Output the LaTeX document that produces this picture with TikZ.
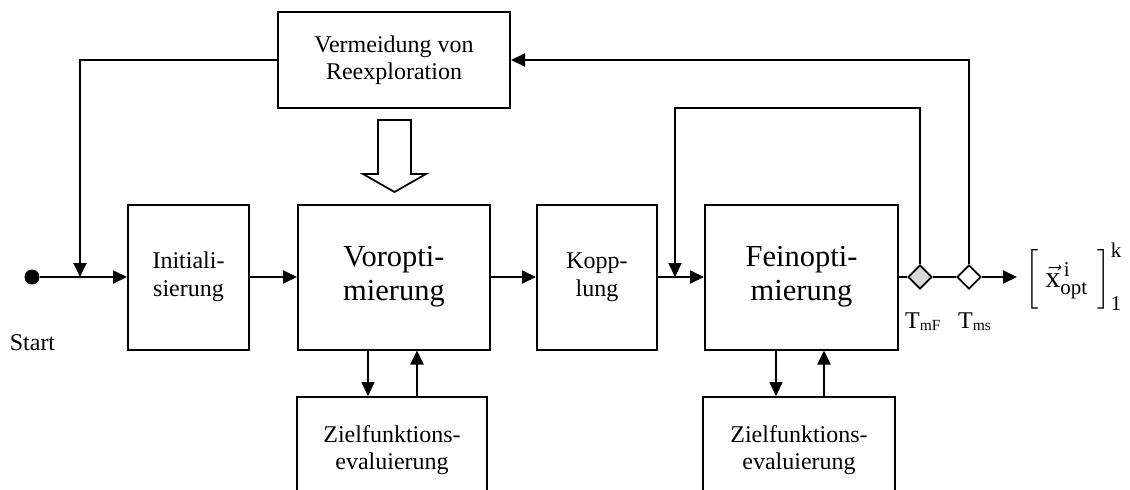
\RequirePackage{fix-cm}
\documentclass[tikz,border=0pt]{standalone}
\usepackage{amsmath}
\usepackage{fontspec}
\setmainfont{Liberation Serif}
\usetikzlibrary{arrows.meta,shapes.geometric,calc}
\definecolor{gatefill}{RGB}{217,217,217}
\tikzset{
  blk/.style={draw, line width=2pt, align=center, inner sep=0pt},
  arr/.style={line width=2pt, -{Triangle[length=14pt,width=13pt]}},
  ln/.style={line width=2pt},
  smalltxt/.style={font=\fontsize{24}{27.5}\selectfont},
  bigtxt/.style={font=\fontsize{30.5}{34}\selectfont},
  gate/.style={diamond, draw, line width=1.7pt, inner sep=0pt,
               minimum width=24pt, minimum height=24pt, fill=white},
}
\begin{document}
\begin{tikzpicture}[x=1pt,y=-1pt]
  \clip (0,0) rectangle (1130,490);

  % blocks
  \node[blk, smalltxt, minimum width=232, minimum height=96] (verm) at (394,60)
    {Vermeidung von\\Reexploration};
  \node[blk, smalltxt, minimum width=121, minimum height=145] (init) at (188.5,277)
    {Initiali-\\sierung};
  \node[blk, bigtxt, minimum width=192, minimum height=145] (vor) at (394,277)
    {Voropti-\\mierung};
  \node[blk, smalltxt, minimum width=120, minimum height=145] (kop) at (597,277)
    {Kopp-\\lung};
  \node[blk, bigtxt, minimum width=193, minimum height=145] (fein) at (801.5,277)
    {Feinopti-\\mierung};
  \node[blk, smalltxt, minimum width=190, minimum height=106] (zl) at (392,450)
    {Zielfunktions-\\evaluierung};
  \node[blk, smalltxt, minimum width=192, minimum height=106] (zr) at (799,450)
    {Zielfunktions-\\evaluierung};

  % start point
  \node[circle, fill, inner sep=0pt, minimum size=15pt] (start) at (32,277) {};
  \node[smalltxt, anchor=base] (startlab) at (32.5,350) {Start};

  % switches
  \node[gate, fill=gatefill] (tmf) at (920,277) {};
  \node[gate] (tms) at (969,277) {};
  \node[smalltxt, anchor=base west, inner sep=0pt] (tmflab) at (905,328)
    {T\raisebox{-2pt}{\fontsize{15.5}{16}\selectfont mF}};
  \node[smalltxt, anchor=base west, inner sep=0pt] (tmslab) at (958,328)
    {T\raisebox{-2pt}{\fontsize{15.5}{16}\selectfont ms}};

  % result
  \node[anchor=west, inner sep=0pt, font=\fontsize{30}{34}\selectfont] (res) at (1025,277)
    {$\Big[\hspace{7pt}\vec{\mathrm{x}}^{\,\mathrm{i}}_{\mathrm{opt}}\hspace{10pt}\Big]^{\mathrm{k}}_{\mathrm{1}}$};

  % junction points
  \coordinate (jin) at (80,277);
  \coordinate (jfb) at (675,108);
  \coordinate (restip) at (1017,277);

  % main chain
  \draw[arr] (start) -- (init);
  \draw[arr] (init) -- (vor);
  \draw[arr] (vor) -- (kop);
  \draw[arr] (kop) -- (fein);
  \draw[ln] (fein) -- (tmf);
  \draw[ln] (tmf) -- (tms);
  \draw[arr] (tms.east) -- (restip);

  % feedback loops
  \draw[arr] (verm.west) -| (jin);
  \draw[arr] (tms.north) |- (verm.east);
  \draw[arr] (tmf.north) |- (jfb) -- (jfb |- fein.west);

  % objective evaluation
  \draw[arr] ([xshift=-26pt]vor.south) -- ([xshift=-26pt]vor.south |- zl.north);
  \draw[arr] ([xshift=23pt]vor.south |- zl.north) -- ([xshift=23pt]vor.south);
  \draw[arr] ([xshift=-25.5pt]fein.south) -- ([xshift=-25.5pt]fein.south |- zr.north);
  \draw[arr] ([xshift=22.5pt]fein.south |- zr.north) -- ([xshift=22.5pt]fein.south);

  % hollow block arrow
  \draw[line width=1.7pt, fill=white, line join=miter]
    (378,120) -- (378,174) -- (363,174) -- (394.5,192) -- (426,174)
    -- (411,174) -- (411,120) -- cycle;
\end{tikzpicture}
\end{document}
